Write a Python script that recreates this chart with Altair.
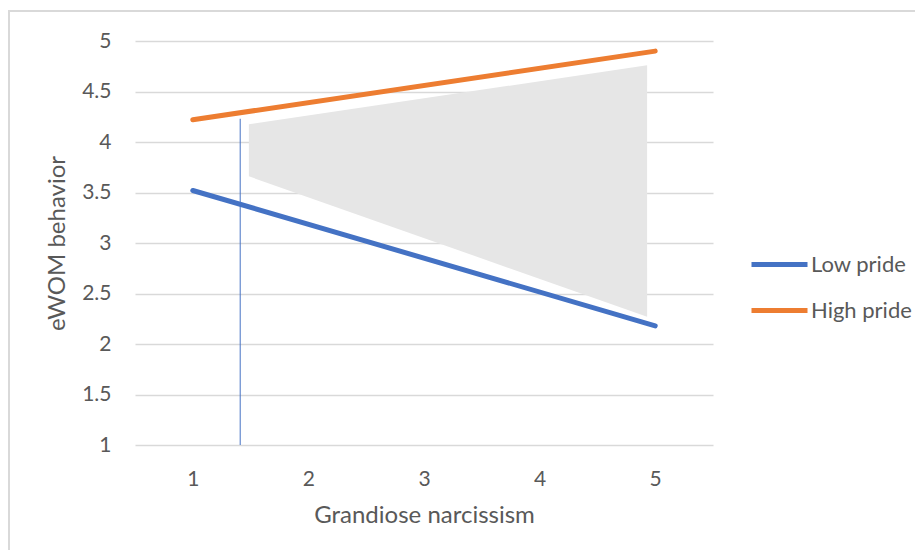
import altair as alt
import pandas as pd

# Data
x_vals = [1, 5]
low_pride = [3.52, 2.18]
high_pride = [4.22, 4.90]
series_names = ["Low pride", "High pride"]
series_colors = ["#4472C4", "#ED7D31"]

# Shaded region (region of significance)
region_x = [1.485, 4.93]
region_top = [4.175, 4.76]
region_bottom = [3.66, 2.27]

# Vertical marker line
marker_x = [1.41]
marker_top = [4.23]
marker_bottom = [1.0]

x_ticks = [1, 2, 3, 4, 5]
y_ticks = [1, 1.5, 2, 2.5, 3, 3.5, 4, 4.5, 5]

FONT = "Lato"
TXT = "#595959"

lines_df = pd.DataFrame({
    "x": x_vals * 2,
    "y": low_pride + high_pride,
    "series": [series_names[0]] * 2 + [series_names[1]] * 2,
})
region_df = pd.DataFrame({"x": region_x, "top": region_top, "bottom": region_bottom})
marker_df = pd.DataFrame({"x": marker_x, "top": marker_top, "bottom": marker_bottom})

xscale = alt.Scale(domain=[0.5, 5.5], nice=False, zero=False)
yscale = alt.Scale(domain=[1, 5], nice=False, zero=False)

xaxis = alt.Axis(values=x_ticks, title="Grandiose narcissism", grid=False, domain=False,
                 ticks=False, labelPadding=23, titlePadding=14, labelFontSize=21,
                 titleFontSize=24, labelColor=TXT, titleColor=TXT, labelFont=FONT,
                 titleFont=FONT, titleFontWeight="normal", format="d")
yaxis = alt.Axis(values=y_ticks, title="eWOM behavior", grid=True, gridColor="#D9D9D9",
                 gridWidth=1.5, domain=False, ticks=False, labelPadding=24,
                 titlePadding=12, labelFontSize=21, titleFontSize=24, labelColor=TXT,
                 titleColor=TXT, labelFont=FONT, titleFont=FONT,
                 titleFontWeight="normal", format="~g")

border = alt.Chart(pd.DataFrame({"a": [0]})).mark_rect(
    fill=None, stroke="#D9D9D9", strokeWidth=2
).encode(x=alt.value(-126), x2=alt.value(900), y=alt.value(-30), y2=alt.value(600))

region = alt.Chart(region_df).mark_area(color="#E6E6E6", opacity=1).encode(
    x=alt.X("x:Q", scale=xscale, axis=xaxis),
    y=alt.Y("top:Q", scale=yscale, axis=yaxis),
    y2="bottom:Q",
)

marker = alt.Chart(marker_df).mark_rule(color="#4472C4", strokeWidth=1).encode(
    x=alt.X("x:Q", scale=xscale),
    y=alt.Y("top:Q", scale=yscale),
    y2="bottom:Q",
)

lines = alt.Chart(lines_df).mark_line(strokeWidth=5, strokeCap="round").encode(
    x=alt.X("x:Q", scale=xscale),
    y=alt.Y("y:Q", scale=yscale),
    color=alt.Color("series:N", scale=alt.Scale(domain=series_names, range=series_colors),
                    sort=series_names,
                    legend=alt.Legend(title=None, orient="none", legendX=614, legendY=193,
                                      symbolType="stroke", symbolSize=3136,
                                      symbolStrokeWidth=5, labelFontSize=22,
                                      labelFont=FONT, labelColor=TXT, rowPadding=4,
                                      labelOffset=1)),
)

chart = alt.layer(border, region, marker, lines).properties(
    width=578, height=404,
    padding={"left": 127, "top": 33, "right": 202, "bottom": 105},
    autosize=alt.AutoSizeParams(type="none"),
).configure_view(stroke=None)

chart.save("out.html", embed_options={"renderer": "svg", "actions": False})
